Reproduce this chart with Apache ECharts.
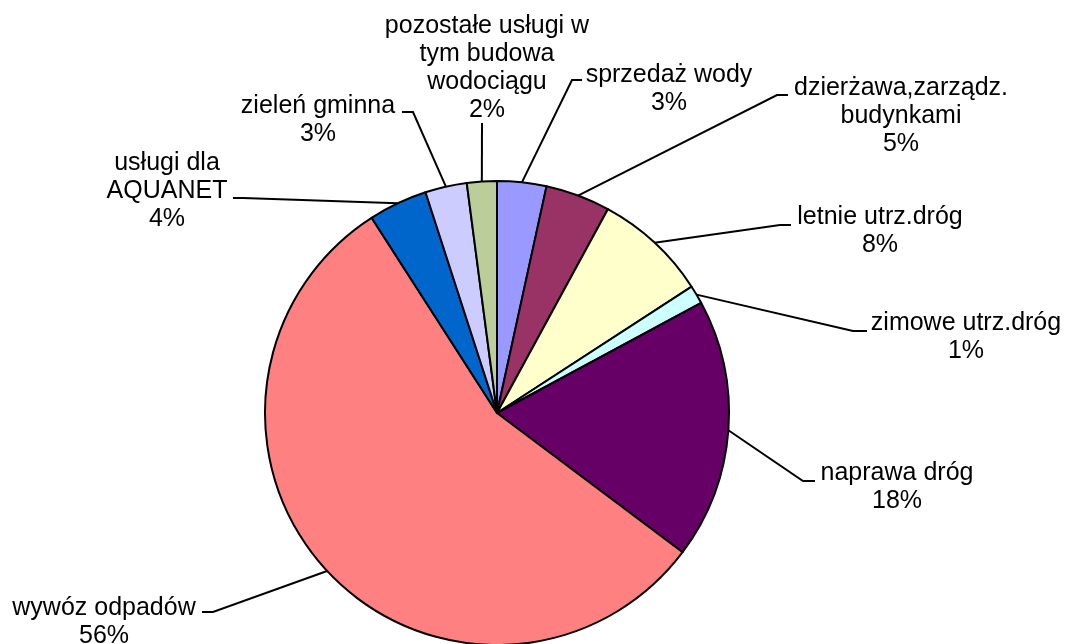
<!DOCTYPE html>
<html>
<head>
<meta charset="utf-8">
<script src="https://cdn.jsdelivr.net/npm/echarts@6/dist/echarts.min.js"></script>
<style>
  html, body { margin: 0; background: #fff; }
  #main { width: 1067px; height: 644px; }
</style>
</head>
<body>
<div id="main"></div>
<script>
// slices clockwise from 12 o'clock
const names = [
  'sprzedaż wody',
  'dzierżawa,zarządz.\nbudynkami',
  'letnie utrz.dróg',
  'zimowe utrz.dróg',
  'naprawa dróg',
  'wywóz odpadów',
  'usługi dla\nAQUANET',
  'zieleń gminna',
  'pozostałe usługi w\ntym budowa\nwodociągu'
];
const values = [3.42, 4.5, 7.9, 1.28, 18.1, 55.6, 4.1, 2.9, 2.08];
const colors = ['#9999FF', '#993366', '#FFFFCC', '#CCFFFF', '#660066', '#FF8080', '#0066CC', '#CCCCFF', '#BBCD99'];

// where each label sits (centre of text block) and the leader's bend points
const labelPos = [
  { x: 669, y: 89,  elbow: [572, 80],  tail: [582, 80] },
  { x: 901, y: 116, elbow: [777, 95],  tail: [788, 95] },
  { x: 880, y: 231, elbow: [780, 225], tail: [791, 225] },
  { x: 966, y: 337, elbow: [853, 331], tail: [867, 331] },
  { x: 897, y: 487, elbow: [803, 481], tail: [815, 481] },
  { x: 104, y: 622, elbow: [213, 612], tail: [202, 612] },
  { x: 167, y: 191, elbow: [243, 198], tail: [233, 198] },
  { x: 318, y: 120, elbow: [413, 112], tail: [402, 112] },
  { x: 487, y: 68,  elbow: [482, 123], tail: [482, 123] }
];

const chart = echarts.init(document.getElementById('main'));

chart.setOption({
  backgroundColor: '#fff',
  animation: false,
  series: [{
    type: 'pie',
    center: [497, 413],
    radius: 232,
    startAngle: 90,
    clockwise: true,
    avoidLabelOverlap: false,
    percentPrecision: 0,
    data: names.map((n, i) => ({ name: n, value: values[i], itemStyle: { color: colors[i] } })),
    itemStyle: { borderColor: '#000', borderWidth: 2 },
    label: {
      show: true,
      position: 'outside',
      formatter: '{b}\n{d}%',
      fontFamily: 'Liberation Sans, Arial, sans-serif',
      fontSize: 25,
      lineHeight: 28,
      color: '#000',
      align: 'center'
    },
    labelLine: {
      show: true,
      smooth: false,
      lineStyle: { color: '#000', width: 2 }
    },
    labelLayout: function (params) {
      const p = labelPos[params.dataIndex];
      const start = params.labelLinePoints ? params.labelLinePoints[0] : p.elbow;
      return {
        x: p.x,
        y: p.y,
        align: 'center',
        verticalAlign: 'middle',
        labelLinePoints: [start, p.elbow, p.tail]
      };
    },
    emphasis: { disabled: true }
  }]
});
</script>
</body>
</html>
